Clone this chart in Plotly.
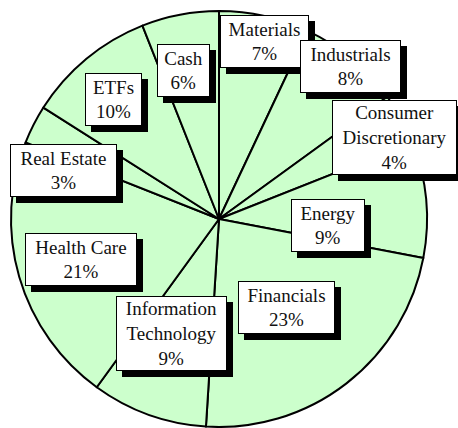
import math
import plotly.graph_objects as go

# ---- data ----
sectors = ["Materials", "Industrials", "Consumer Discretionary", "Energy", "Financials",
           "Information Technology", "Health Care", "Real Estate", "ETFs", "Cash"]
label_lines = ["Materials", "Industrials", "Consumer<br>Discretionary", "Energy", "Financials",
               "Information<br>Technology", "Health Care", "Real Estate", "ETFs", "Cash"]
weights = [7, 8, 4, 9, 23, 9, 21, 3, 10, 6]

# ---- layout / style ----
W, H = 458, 428
CX, CY, R = 219, 219, 208          # pie centre and radius in pixels
FILL = "#CCFFCC"
FONT = "Liberation Serif"
FS = 19
label_radius = [0.883, 0.968, 0.930, 0.525, 0.537, 0.596, 0.691, 0.782, 0.766, 0.734]
label_nudge = [1.9, 1.2, 3.9, 8.8, 0.6, 2.7, 0.0, -9.8, -1.8, -2.6]
box_w = [89, 101, 125, 74, 97, 111, 112, 107, 57, 53]
SHADOW = 6
BP, BW = 1, 1

fig = go.Figure()
fig.add_trace(go.Pie(
    labels=sectors, values=weights, sort=False, direction="clockwise", rotation=0,
    marker=dict(colors=[FILL] * len(weights), line=dict(color="black", width=2)),
    textinfo="none", hoverinfo="label+percent", showlegend=False,
    domain=dict(x=[(CX - R) / W, (CX + R) / W], y=[(H - CY - R) / H, (H - CY + R) / H]),
))

total = sum(weights)
cum = 0
annotations = []
for i, (txt, v) in enumerate(zip(label_lines, weights)):
    mid = (cum + v / 2) / total * 360
    cum += v
    ang = math.radians(mid + label_nudge[i])
    r = label_radius[i] * R
    px = CX + r * math.sin(ang)
    py = CY - r * math.cos(ang)
    xp, yp = px / W, 1 - py / H
    nlines = txt.count("<br>") + 2
    bh = 53 if nlines == 2 else 75
    text = f"{txt}<br>{v}%"
    common = dict(x=xp, y=yp, xref="paper", yref="paper", xanchor="center", yanchor="middle",
                  showarrow=False, align="center", width=box_w[i] - 2 * (BP + BW),
                  height=bh - 2 * (BP + BW), borderpad=BP, borderwidth=BW)
    # drop shadow box (no text)
    annotations.append(dict(text=" ", font=dict(family=FONT, size=FS, color="black"),
                            bgcolor="black", bordercolor="black",
                            xshift=SHADOW, yshift=-SHADOW, **common))
    annotations.append(dict(text=text, font=dict(family=FONT, size=FS, color="#111111"),
                            bgcolor="white", bordercolor="black", **common))

fig.update_layout(width=W, height=H, margin=dict(l=0, r=0, t=0, b=0),
                  font=dict(family=FONT),
                  paper_bgcolor="white", plot_bgcolor="white", annotations=annotations)
fig.write_html("out.html")
